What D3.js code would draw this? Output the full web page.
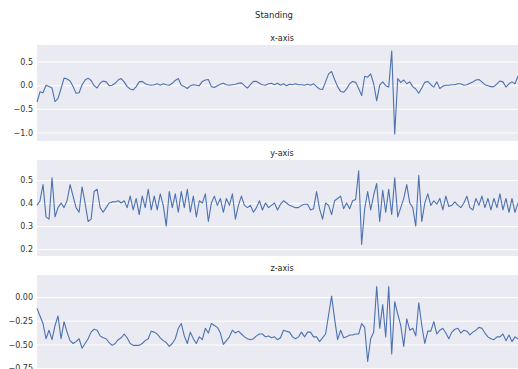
<!DOCTYPE html>
<html>
<head>
<meta charset="utf-8">
<script src="https://cdn.jsdelivr.net/npm/d3@7"></script>
<style>
  html, body { margin: 0; padding: 0; background: #ffffff; }
  svg { display: block; font-family: "DejaVu Sans", sans-serif; }
</style>
</head>
<body>
<svg id="chart" width="518" height="369"></svg>
<script>
// accelerometer readings, one value per sample
const xAxisValues = [
  -0.36, -0.14, -0.16, 0.0, -0.03, -0.06, -0.35, -0.28, -0.07, 0.15,
  0.13, 0.09, -0.03, -0.17, -0.16, 0.01, 0.11, 0.15, 0.1, -0.01,
  -0.06, 0.04, 0.09, 0.07, -0.01, 0.0, 0.04, 0.11, 0.14, 0.07,
  -0.03, -0.08, -0.1, -0.03, 0.07, 0.08, 0.03, 0.01, 0.0, 0.01,
  0.03, 0.0, 0.03, 0.01, 0.0, 0.04, 0.1, 0.14, 0.0, -0.03,
  -0.07, -0.01, 0.01, 0.0, -0.01, 0.08, 0.11, 0.12, -0.03, -0.05,
  -0.01, 0.02, 0.04, 0.01, 0.0, 0.01, 0.02, 0.04, 0.05, -0.01,
  -0.06, 0.01, 0.08, 0.08, 0.04, 0.01, 0.0, 0.03, 0.04, 0.01,
  0.04, 0.0, 0.03, -0.01, 0.02, 0.01, 0.03, 0.01, 0.01, 0.0,
  0.02, 0.0, 0.03, -0.03, -0.08, -0.09, 0.07, 0.24, 0.29, 0.12,
  -0.03, -0.13, -0.15, -0.08, 0.03, 0.08, 0.06, -0.07, -0.22, 0.19,
  0.17, 0.24, 0.03, -0.33, 0.0, 0.07, -0.01, -0.04, 0.72, -1.03,
  0.14, 0.06, 0.11, 0.03, 0.07, -0.03, -0.08, -0.17, -0.06, 0.06,
  0.08, 0.01, -0.04, 0.07, -0.07, -0.02, 0.0, 0.0, 0.01, 0.01,
  0.03, 0.03, 0.0, 0.01, 0.04, 0.07, 0.11, 0.12, 0.07, 0.01,
  -0.01, -0.03, -0.03, 0.03, 0.09, 0.07, -0.04, 0.03, 0.07, 0.03,
  0.19, 0.2, 0.12, 0.08
];

const yAxisValues = [
  0.39, 0.41, 0.48, 0.34, 0.33, 0.51, 0.34, 0.38, 0.40, 0.38,
  0.41, 0.48, 0.43, 0.38, 0.36, 0.47, 0.40, 0.32, 0.33, 0.45,
  0.46, 0.38, 0.36, 0.38, 0.40, 0.405, 0.405, 0.41, 0.40, 0.41,
  0.38, 0.43, 0.37, 0.42, 0.35, 0.43, 0.38, 0.46, 0.37, 0.43,
  0.37, 0.44, 0.39, 0.30, 0.45, 0.38, 0.44, 0.36, 0.45, 0.38,
  0.46, 0.36, 0.43, 0.34, 0.41, 0.40, 0.44, 0.32, 0.40, 0.43,
  0.39, 0.42, 0.36, 0.42, 0.39, 0.44, 0.33, 0.39, 0.43, 0.39,
  0.38, 0.39, 0.36, 0.38, 0.41, 0.37, 0.40, 0.38, 0.39, 0.40,
  0.37, 0.395, 0.41, 0.40, 0.39, 0.385, 0.38, 0.38, 0.39, 0.395,
  0.395, 0.37, 0.375, 0.45, 0.375, 0.33, 0.40, 0.39, 0.35, 0.41,
  0.42, 0.43, 0.375, 0.40, 0.375, 0.41, 0.415, 0.54, 0.22, 0.375,
  0.45, 0.37, 0.435, 0.485, 0.32, 0.455, 0.36, 0.46, 0.35, 0.51,
  0.34, 0.38, 0.42, 0.48, 0.40, 0.38, 0.30, 0.52, 0.32, 0.40,
  0.44, 0.39, 0.41, 0.395, 0.42, 0.37, 0.43, 0.385, 0.39, 0.405,
  0.39, 0.38, 0.40, 0.43, 0.38, 0.37, 0.42, 0.39, 0.43, 0.38,
  0.42, 0.37, 0.42, 0.38, 0.44, 0.37, 0.42, 0.36, 0.42, 0.36,
  0.40, 0.38, 0.42, 0.39
];

const zAxisValues = [
  -0.12, -0.20, -0.28, -0.44, -0.35, -0.45, -0.30, -0.20, -0.44, -0.26,
  -0.37, -0.46, -0.49, -0.47, -0.44, -0.54, -0.49, -0.44, -0.37, -0.34,
  -0.35, -0.41, -0.43, -0.44, -0.48, -0.51, -0.49, -0.45, -0.43, -0.39,
  -0.43, -0.49, -0.51, -0.51, -0.51, -0.49, -0.46, -0.44, -0.36, -0.37,
  -0.39, -0.43, -0.46, -0.48, -0.52, -0.49, -0.44, -0.33, -0.28, -0.41,
  -0.49, -0.37, -0.44, -0.49, -0.42, -0.45, -0.33, -0.38, -0.28, -0.30,
  -0.32, -0.38, -0.50, -0.46, -0.42, -0.35, -0.38, -0.36, -0.39, -0.42,
  -0.44, -0.45, -0.44, -0.41, -0.39, -0.39, -0.42, -0.41, -0.43, -0.42,
  -0.45, -0.43, -0.35, -0.36, -0.37, -0.42, -0.44, -0.42, -0.37, -0.42,
  -0.37, -0.37, -0.42, -0.42, -0.47, -0.43, -0.39, -0.19, 0.01, -0.23,
  -0.45, -0.35, -0.43, -0.42, -0.40, -0.40, -0.39, -0.39, -0.28, -0.32,
  -0.68, -0.44, -0.37, 0.11, -0.33, -0.08, -0.42, 0.11, -0.60, -0.05,
  -0.18, -0.30, -0.52, -0.23, -0.35, -0.33, -0.41, -0.06, -0.30, -0.49,
  -0.36, -0.36, -0.26, -0.39, -0.35, -0.33, -0.38, -0.44, -0.37, -0.34,
  -0.33, -0.38, -0.35, -0.36, -0.40, -0.37, -0.35, -0.32, -0.33, -0.38,
  -0.42, -0.44, -0.45, -0.42, -0.42, -0.39, -0.46, -0.40, -0.47, -0.42,
  -0.44, -0.40, -0.45, -0.42
];

const panelTitles = ['x-axis', 'y-axis', 'z-axis'];
const xAxisTicks = [0.5, 0.0, -0.5, -1.0];
const yAxisTicks = [0.5, 0.4, 0.3, 0.2];
const zAxisTicks = [0.0, -0.25, -0.5, -0.75];

const panels = [
  { title: panelTitles[0], values: xAxisValues, ticks: xAxisTicks, domain: [-1.18, 0.85], fmt: '.1f', top: 45 },
  { title: panelTitles[1], values: yAxisValues, ticks: yAxisTicks, domain: [0.17, 0.587], fmt: '.1f', top: 160 },
  { title: panelTitles[2], values: zAxisValues, ticks: zAxisTicks, domain: [-0.78, 0.232], fmt: '.2f', top: 275 }
];

const svg = d3.select('#chart');
const left = 37;
const right = 527;     // the figure runs past the right edge of the picture
const panelHeight = 96;

svg.append('text')
  .attr('x', 274)
  .attr('y', 18)
  .attr('text-anchor', 'middle')
  .attr('font-size', 8.5)
  .attr('fill', '#262626')
  .text('Standing');

panels.forEach((p) => {
  const x = d3.scaleLinear().domain([0, p.values.length - 1]).range([left, right]);
  const y = d3.scaleLinear().domain(p.domain).range([p.top + panelHeight, p.top]);

  const g = svg.append('g');

  g.append('rect')
    .attr('x', left)
    .attr('y', p.top)
    .attr('width', right - left)
    .attr('height', panelHeight)
    .attr('fill', '#eaeaf2');

  const yAxis = d3.axisLeft(y)
    .tickValues(p.ticks)
    .tickFormat(d3.format(p.fmt))
    .tickSizeInner(-(right - left))
    .tickSizeOuter(0)
    .tickPadding(4);

  const ax = g.append('g')
    .attr('transform', `translate(${left},0)`)
    .call(yAxis);

  ax.select('.domain').remove();
  ax.selectAll('.tick line').attr('stroke', '#ffffff').attr('stroke-width', 1);
  ax.selectAll('.tick text')
    .attr('fill', '#333333')
    .attr('font-size', 8)
    .attr('font-family', '"DejaVu Sans", sans-serif');

  const line = d3.line()
    .x((d, i) => x(i))
    .y((d) => y(d));

  g.append('path')
    .datum(p.values)
    .attr('d', line)
    .attr('fill', 'none')
    .attr('stroke', '#4c72b0')
    .attr('stroke-width', 1.1)
    .attr('stroke-linejoin', 'round');

  g.append('text')
    .attr('x', (left + right) / 2)
    .attr('y', p.top - 4)
    .attr('text-anchor', 'middle')
    .attr('font-size', 8)
    .attr('fill', '#262626')
    .text(p.title);
});
</script>
</body>
</html>
